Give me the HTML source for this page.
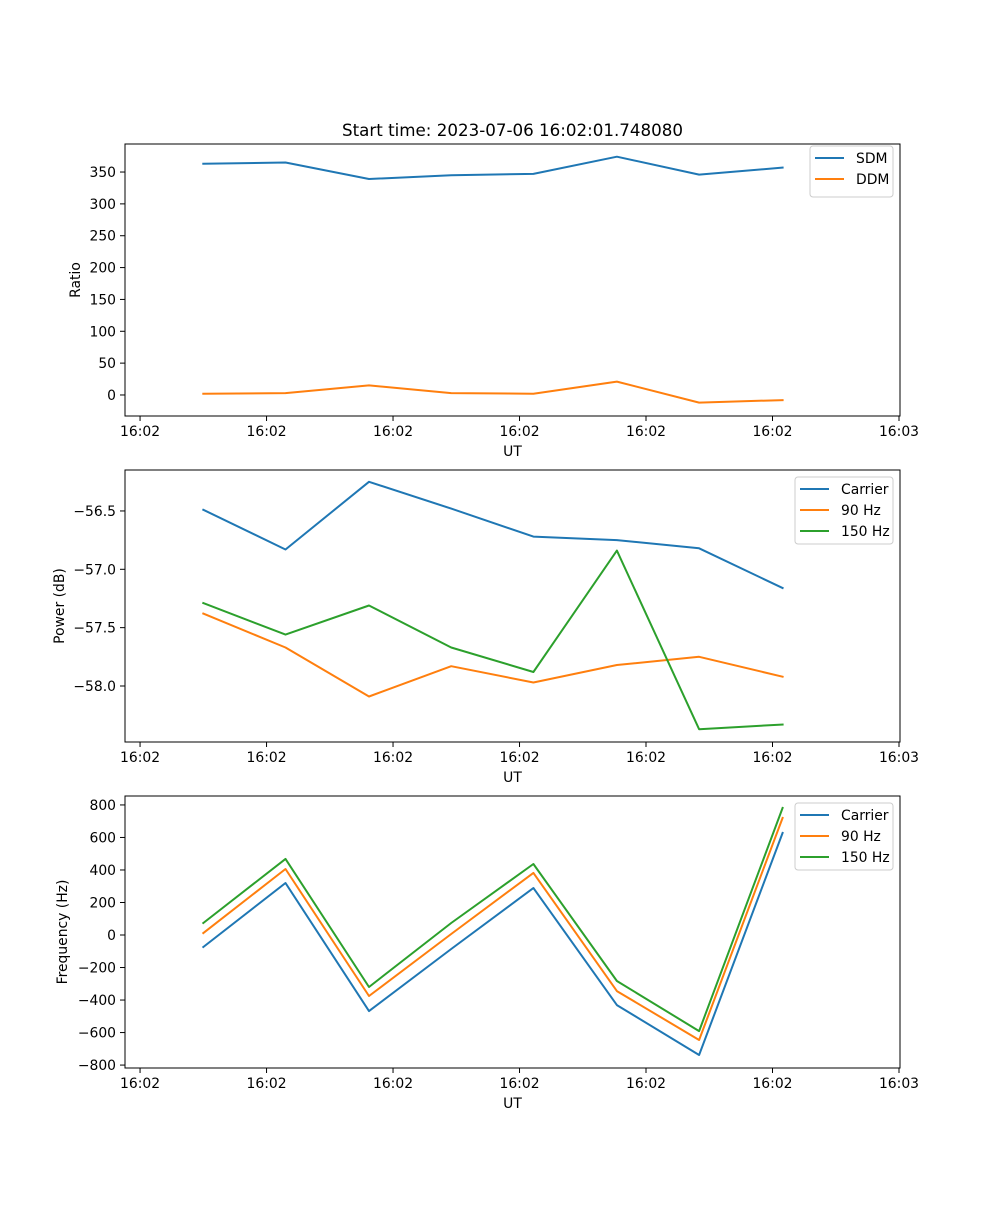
<!DOCTYPE html>
<html><head><meta charset="utf-8"><style>
body{margin:0;background:#fff}
svg text{font-family:"DejaVu Sans","Liberation Sans",sans-serif;fill:#000}
</style></head><body>
<svg id="fig" width="1000" height="1200" xmlns="http://www.w3.org/2000/svg">
<rect width="1000" height="1200" fill="#fff"/>
<text x="512.5" y="136" font-size="16.7" text-anchor="middle">Start time: 2023-07-06 16:02:01.748080</text>
</svg>
<script>
const times = [5.0, 11.5, 18.1, 24.6, 31.1, 37.7, 44.2, 50.8];
const xTicks = [0, 10, 20, 30, 40, 50, 60];
const xTickLabels = ["16:02","16:02","16:02","16:02","16:02","16:02","16:03"];
const sdm = [363, 365, 339, 345, 347, 374, 346, 357];
const ddm = [2, 3, 15, 3, 2, 21, -12, -8];
const powCarrier = [-56.49, -56.83, -56.25, -56.48, -56.72, -56.75, -56.82, -57.16];
const pow90 = [-57.38, -57.67, -58.09, -57.83, -57.97, -57.82, -57.75, -57.92];
const pow150 = [-57.29, -57.56, -57.31, -57.67, -57.88, -56.84, -58.37, -58.33];
const freqCarrier = [-74, 320, -468, -86, 289, -431, -738, 628];
const freq90 = [12, 406, -375, 6, 382, -345, -646, 720];
const freq150 = [74, 468, -320, 74, 437, -283, -591, 782];
const ratioTicks = [0, 50, 100, 150, 200, 250, 300, 350];
const powTicks = [-58.0, -57.5, -57.0, -56.5];
const powTickLabels = ["\u221258.0","\u221257.5","\u221257.0","\u221256.5"];
const freqTicks = [-800, -600, -400, -200, 0, 200, 400, 600, 800];
const freqTickLabels = ["\u2212800","\u2212600","\u2212400","\u2212200","0","200","400","600","800"];

const NS = "http://www.w3.org/2000/svg";
const svg = document.getElementById('fig');
const L = 125, R = 900;
const xMin = -1.19, xMax = 60.08;
function xs(t){ return L + (t - xMin) / (xMax - xMin) * (R - L); }
function mk(tag, attrs, parent){ const e = document.createElementNS(NS, tag); for (const k in attrs) e.setAttribute(k, attrs[k]); (parent||svg).appendChild(e); return e; }

function panel(name, top, bottom, yMin, yMax, yTicks, yLabels, ylabel, ylabelX, series, legend){
  const g = mk('g', {});
  
  
  const ys = v => bottom - (v - yMin) / (yMax - yMin) * (bottom - top);
  series.forEach(s => {
    const pts = s.vals.map((v, i) => xs(times[i]).toFixed(1) + ',' + ys(v).toFixed(1)).join(' ');
    const pl = mk('polyline', {points: pts, fill: 'none', stroke: s.color, 'stroke-width': 2, 'stroke-linejoin': 'round', 'stroke-linecap': 'square'}, g);
    
    
  });
  const fr = mk('rect', {x: L, y: top, width: R - L, height: bottom - top, fill: 'none', stroke: '#000', 'stroke-width': 1}, g);
  
  
  xTicks.forEach((t, i) => {
    const x = xs(t);
    mk('line', {x1: x, x2: x, y1: bottom, y2: bottom + 5, stroke: '#000', 'stroke-width': 1}, g);
    const tx = mk('text', {x: x, y: bottom + 20, 'font-size': 13.9, 'text-anchor': 'middle'}, g);
    
    
    tx.textContent = xTickLabels[i];
  });
  const xl = mk('text', {x: 512.5, y: bottom + 40, 'font-size': 13.9, 'text-anchor': 'middle'}, g);
  
  
  xl.textContent = 'UT';
  yTicks.forEach((v, i) => {
    const y = ys(v);
    mk('line', {x1: L - 5, x2: L, y1: y, y2: y, stroke: '#000', 'stroke-width': 1}, g);
    const tx = mk('text', {x: L - 9, y: y + 5, 'font-size': 13.9, 'text-anchor': 'end'}, g);
    
    
    tx.textContent = yLabels[i];
  });
  const cy = (top + bottom) / 2;
  const yl = mk('text', {x: ylabelX, y: cy, 'font-size': 13.9, 'text-anchor': 'middle', transform: 'rotate(-90 ' + ylabelX + ' ' + cy + ')'}, g);
  
  
  yl.textContent = ylabel;
  const lg = mk('g', {}, g);
  
  
  mk('rect', {x: legend.x, y: legend.y, width: legend.w, height: legend.h, rx: 3, fill: '#fff', 'fill-opacity': 0.8, stroke: '#ccc', 'stroke-width': 1}, lg);
  series.forEach((s, i) => {
    const ry = legend.y + 12 + i * 21;
    const e = mk('g', {}, lg);
    
    
    mk('line', {x1: legend.x + 5, x2: legend.x + 34, y1: ry, y2: ry, stroke: s.color, 'stroke-width': 2}, e);
    const t = mk('text', {x: legend.x + 46, y: ry + 5, 'font-size': 13.9}, e);
    t.textContent = s.label;
  });
}
const C1 = '#1f77b4', C2 = '#ff7f0e', C3 = '#2ca02c';
panel('ratio-panel', 144, 416, -33, 394, ratioTicks, ratioTicks.map(String), 'Ratio', 80,
  [{key:'sdm', label:'SDM', vals:sdm, color:C1}, {key:'ddm', label:'DDM', vals:ddm, color:C2}],
  {x: 810, y: 146, w: 83, h: 51});
panel('power-panel', 470, 742, -58.48, -56.149, powTicks, powTickLabels, 'Power (dB)', 64,
  [{key:'carrier', label:'Carrier', vals:powCarrier, color:C1}, {key:'90hz', label:'90 Hz', vals:pow90, color:C2}, {key:'150hz', label:'150 Hz', vals:pow150, color:C3}],
  {x: 795, y: 477, w: 98, h: 67});
panel('frequency-panel', 796, 1068, -818, 855, freqTicks, freqTickLabels, 'Frequency (Hz)', 67,
  [{key:'carrier', label:'Carrier', vals:freqCarrier, color:C1}, {key:'90hz', label:'90 Hz', vals:freq90, color:C2}, {key:'150hz', label:'150 Hz', vals:freq150, color:C3}],
  {x: 795, y: 803, w: 98, h: 67});
</script>
</body></html>
